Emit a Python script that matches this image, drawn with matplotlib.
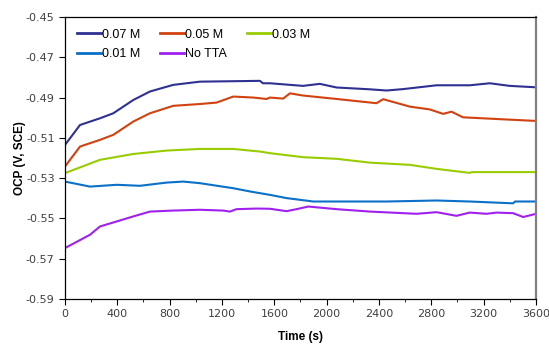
import matplotlib
matplotlib.use("Agg")
import matplotlib.pyplot as plt
from matplotlib.ticker import MultipleLocator, FixedLocator

# OCP traces (time in s, potential in V vs SCE)
t_007 = [0, 115, 267, 369, 522, 649, 827, 1031, 1490, 1513, 1566, 1819, 1948,
         2076, 2330, 2458, 2584, 2840, 3094, 3247, 3400, 3600]
v_007 = [-0.5135, -0.5036, -0.5003, -0.4978, -0.4912, -0.4870, -0.4837,
         -0.4821, -0.4817, -0.4829, -0.4829, -0.4842, -0.4832, -0.4850,
         -0.4859, -0.4865, -0.4858, -0.4839, -0.4839, -0.4829, -0.4842,
         -0.4849]

t_005 = [0, 115, 267, 369, 522, 649, 827, 1031, 1158, 1286, 1440, 1541, 1566,
         1668, 1719, 1820, 2076, 2381, 2432, 2636, 2789, 2890, 2954, 3042,
         3348, 3600]
v_005 = [-0.5242, -0.5143, -0.5110, -0.5085, -0.5019, -0.4978, -0.4941,
         -0.4932, -0.4925, -0.4895, -0.4900, -0.4907, -0.4900, -0.4905,
         -0.4879, -0.4890, -0.4907, -0.4928, -0.4908, -0.4945, -0.4959,
         -0.4981, -0.4970, -0.4998, -0.5008, -0.5016]

t_003 = [0, 267, 522, 777, 1031, 1286, 1490, 1566, 1819, 2076, 2330, 2636,
         2840, 3094, 3110, 3600]
v_003 = [-0.5275, -0.5209, -0.5180, -0.5163, -0.5155, -0.5155, -0.5168,
         -0.5176, -0.5196, -0.5204, -0.5223, -0.5234, -0.5254, -0.5274,
         -0.5270, -0.5270]

t_001 = [0, 191, 395, 573, 777, 904, 1031, 1286, 1413, 1566, 1693, 1897,
         2458, 2840, 3094, 3425, 3440, 3600]
v_001 = [-0.5317, -0.5342, -0.5333, -0.5338, -0.5322, -0.5317, -0.5325,
         -0.5350, -0.5366, -0.5383, -0.5399, -0.5416, -0.5416, -0.5411,
         -0.5416, -0.5425, -0.5416, -0.5416]

t_none = [0, 191, 267, 395, 522, 649, 827, 1031, 1209, 1260, 1311, 1464,
          1566, 1693, 1770, 1859, 2076, 2330, 2687, 2840, 2992, 3094, 3222,
          3298, 3425, 3502, 3600]
v_none = [-0.5647, -0.5581, -0.5540, -0.5515, -0.5490, -0.5466, -0.5461,
          -0.5457, -0.5461, -0.5466, -0.5454, -0.5451, -0.5452, -0.5464,
          -0.5454, -0.5441, -0.5454, -0.5466, -0.5477, -0.5469, -0.5487,
          -0.5471, -0.5477, -0.5471, -0.5474, -0.5493, -0.5477]

labels = ["0.07 M", "0.05 M", "0.03 M", "0.01 M", "No TTA"]
colors = ["#2E3192", "#D2410F", "#99CC00", "#0A70C8", "#A020F0"]
y_ticks = [-0.59, -0.57, -0.55, -0.53, -0.51, -0.49, -0.47, -0.45]


def main():
    fig = plt.figure(figsize=(5.49, 3.44), dpi=100)
    ax = fig.add_axes([0.1184, 0.1308, 0.8579, 0.8198])

    series = [(t_007, v_007), (t_005, v_005), (t_003, v_003),
              (t_001, v_001), (t_none, v_none)]
    handles = []
    for (t, v), lab, c in zip(series, labels, colors):
        h, = ax.plot(t, v, color=c, lw=1.5, label=lab)
        handles.append(h)

    ax.set_xlim(0, 3600)
    ax.set_ylim(-0.59, -0.45)
    ax.xaxis.set_major_locator(MultipleLocator(400))
    ax.xaxis.set_minor_locator(MultipleLocator(200))
    ax.yaxis.set_major_locator(FixedLocator(y_ticks))
    ax.yaxis.set_major_formatter(plt.FuncFormatter(lambda y, _: f"{y:.2f}"))
    ax.tick_params(axis="both", which="major", direction="out", length=4,
                   labelsize=8, labelcolor="#404040", width=0.8)
    ax.tick_params(axis="x", which="minor", direction="out", length=2.5,
                   width=0.6)
    ax.tick_params(axis="y", which="minor", left=False)

    for s in ("left", "bottom", "top"):
        ax.spines[s].set_color("black")
        ax.spines[s].set_linewidth(0.9)
    ax.spines["right"].set_color("#808080")
    ax.spines["right"].set_linewidth(1.6)

    ax.set_xlabel("Time (s)", fontsize=8.5, fontweight="bold",
                  family="Liberation Sans", labelpad=8)
    ax.set_ylabel("OCP (V, SCE)", fontsize=8.5, fontweight="bold",
                  family="Liberation Sans", labelpad=0)

    # legend fills column-wise; reorder so it reads row-wise like the original
    order = [0, 3, 1, 4, 2]
    leg = ax.legend([handles[i] for i in order], [labels[i] for i in order],
                    loc="upper left", ncol=3, frameon=False,
                    prop={"family": "Liberation Sans", "size": 9},
                    handlelength=1.9, handletextpad=0.1, columnspacing=1.6,
                    borderaxespad=0.55, labelspacing=0.6)
    for h in leg.get_lines():
        h.set_linewidth(2.0)

    fig.savefig("out.png", dpi=100)
    plt.close(fig)


if __name__ == "__main__":
    main()
